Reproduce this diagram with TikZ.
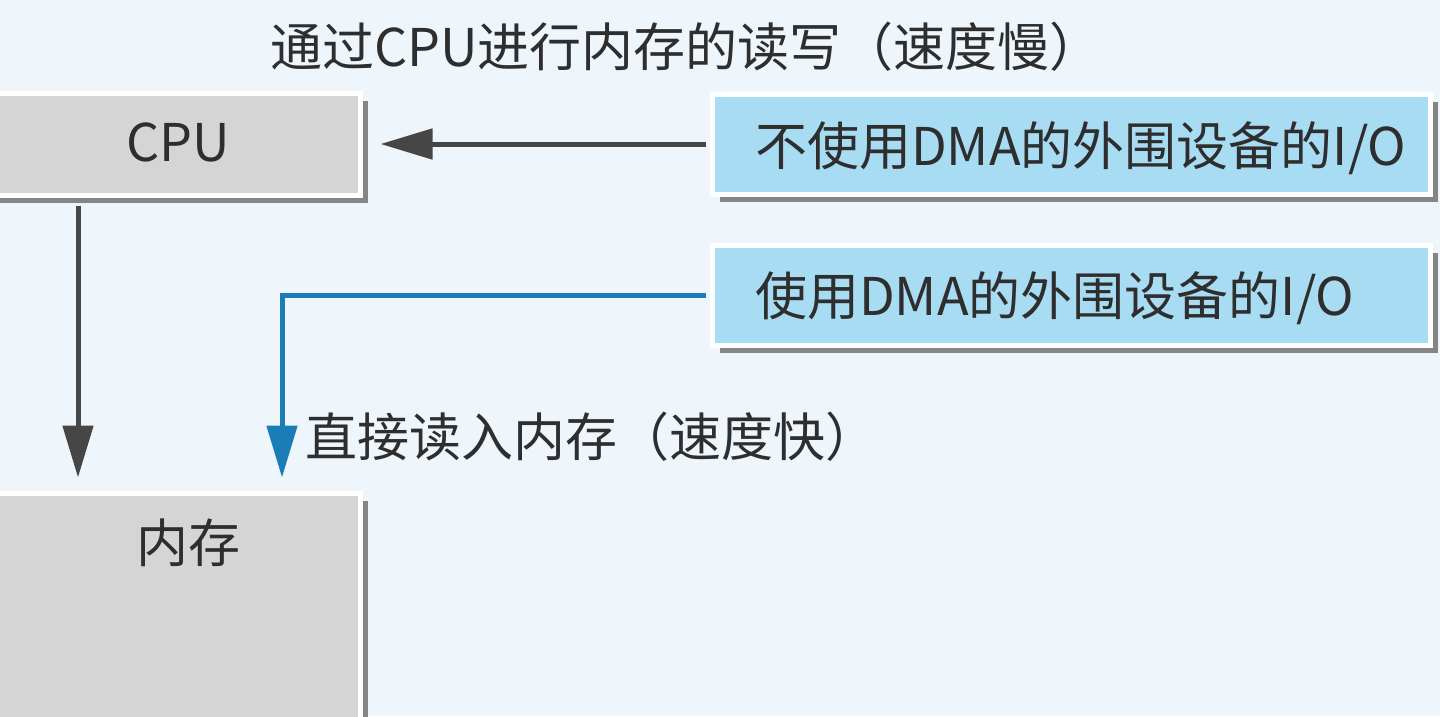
\documentclass[tikz,border=0pt]{standalone}
\usepackage{fontspec}
\setmainfont{Noto Sans CJK SC}
\usetikzlibrary{arrows.meta,shadows}
\definecolor{bgblue}{HTML}{EEF6FC}
\definecolor{boxgray}{HTML}{D5D5D5}
\definecolor{boxblue}{HTML}{A8DCF3}
\definecolor{shadegray}{HTML}{858585}
\definecolor{linegray}{HTML}{464646}
\definecolor{dmablue}{HTML}{1A7DB7}
\definecolor{txt}{HTML}{2E2E2E}
\tikzset{
  unit/.style={rectangle, draw=white, line width=5pt, inner sep=0pt,
    drop shadow={shadow xshift=8pt, shadow yshift=-8pt, fill=shadegray, opacity=1}},
  cpubox/.style={unit, fill=boxgray},
  iobox/.style={unit, fill=boxblue, minimum width=718pt, minimum height=100pt},
  word/.style={text=txt, font=\fontsize{52pt}{60pt}\selectfont, inner sep=0pt},
  flow/.style={-{Triangle[length=52pt, width=30pt]}, line width=5pt}
}
\begin{document}
\begin{tikzpicture}[x=1pt, y=-1pt]
        \fill[bgblue] (0,0) rectangle (1440,716);
        \useasboundingbox (0,0) rectangle (1440,716);

        \node[cpubox, minimum width=370pt, minimum height=102pt] (cpu) at (175,144) {};
        \node[cpubox, minimum width=370pt, minimum height=240pt] (mem) at (175,613) {};
        \node[iobox] (io1) at (1071,144) {};
        \node[iobox] (io2) at (1071,295) {};

        \node[word] (cpulbl) at (178,142) {CPU};
        \node[word] (memlbl) at (188,543) {内存};
        \node[word, anchor=west] (io1lbl) at (755,148) {不使用DMA的外围设备的I/O};
        \node[word, anchor=west] (io2lbl) at (755,298) {使用DMA的外围设备的I/O};
        \node[word, anchor=west] (slow) at (270,47) {通过CPU进行内存的读写（速度慢）};
        \node[word, anchor=west] (fast) at (305,437) {直接读入内存（速度快）};

        \draw[flow, linegray, shorten <=4pt, shorten >=18pt] (io1.west) -- (io1.west -| cpu.east);
        \draw[flow, linegray, shorten <=8pt, shorten >=13pt] (78,0 |- cpu.south) -- (78,0 |- mem.north);
        \draw[flow, dmablue, shorten <=4pt, shorten >=13pt] (io2.west) -| (282,0 |- mem.north);

        \end{tikzpicture}
\end{document}
